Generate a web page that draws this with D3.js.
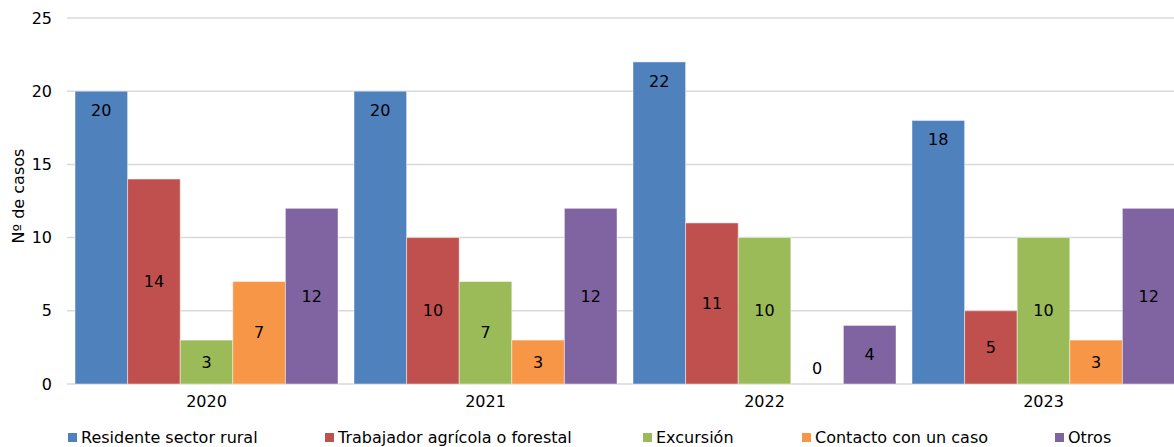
<!DOCTYPE html>
<html><head><meta charset="utf-8">
<script src="https://cdn.jsdelivr.net/npm/d3@7"></script>
<style>body{margin:0;background:#fff}svg{display:block;font-family:"DejaVu Sans",Verdana,sans-serif}</style>
</head><body><svg id="c" width="1174" height="447"></svg>
<script>
const years = ["2020","2021","2022","2023"];
const seriesNames = ["Residente sector rural","Trabajador agrícola o forestal","Excursión","Contacto con un caso","Otros"];
const residente = [20,20,22,18];
const trabajador = [14,10,11,5];
const excursion = [3,7,10,10];
const contacto = [7,3,0,3];
const otros = [12,12,4,12];
const colors = ["#4F81BD","#C0504D","#9BBB59","#F79646","#8064A2"];
const yTicks = [0,5,10,15,20,25];
const yTitle = "Nº de casos";

const series = [residente,trabajador,excursion,contacto,otros];
const svg = d3.select("#c");
const x0 = d3.scaleBand().domain(years).range([67,1183]).paddingInner(0).paddingOuter(0);
const x1 = d3.scaleBand().domain(d3.range(5)).range([8, x0.bandwidth()-8]);
const y = d3.scaleLinear().domain([0,25]).range([384,18]);

// gridlines
svg.append("g").selectAll("line").data(yTicks).join("line")
  .attr("x1",67).attr("x2",1174).attr("y1",d=>y(d)).attr("y2",d=>y(d))
  .attr("stroke","#d9d9d9").attr("stroke-width",1.5);

// y axis labels
const yAxis = d3.axisLeft(y).tickValues(yTicks).tickSize(0).tickPadding(0);
const ya = svg.append("g").attr("transform","translate(52,0)").call(yAxis);
ya.select(".domain").remove();
ya.selectAll("text").attr("font-size",16).attr("fill","#000").attr("font-family","DejaVu Sans");

// y title
svg.append("text").attr("transform","translate(24,196) rotate(-90)")
  .attr("text-anchor","middle").attr("font-size",16).text(yTitle);

// x axis labels
const xAxis = d3.axisBottom(x0).tickSize(0).tickPadding(0);
const xa = svg.append("g").attr("transform","translate(0,396)").call(xAxis);
xa.select(".domain").remove();
xa.selectAll("text").attr("font-size",16).attr("fill","#000").attr("font-family","DejaVu Sans").attr("dy","0.71em");

// bars
series.forEach((vals,si)=>{
  const g = svg.append("g");
  g.selectAll("rect").data(vals).join("rect")
    .attr("x",(d,i)=>x0(years[i])+x1(si))
    .attr("width",x1.bandwidth())
    .attr("y",d=>y(d)).attr("height",d=>y(0)-y(d))
    .attr("fill",colors[si]).attr("stroke","rgba(255,255,255,0.45)").attr("stroke-width",1);
  g.selectAll("text").data(vals).join("text")
    .attr("x",(d,i)=>x0(years[i])+x1(si)+x1.bandwidth()/2)
    .attr("y",d=>{
      if (si===0) return y(d)+19;
      if (d===0) return y(0)-16;
      return (y(d)+y(0))/2;
    })
    .attr("dy","0.35em").attr("text-anchor","middle").attr("font-size",16).attr("fill","#000")
    .text(d=>d);
});

// legend
const legX = [68,325,643,802,1055];
const lg = svg.append("g");
seriesNames.forEach((n,i)=>{
  lg.append("rect").attr("x",legX[i]).attr("y",433).attr("width",9).attr("height",9).attr("fill",colors[i]);
  lg.append("text").attr("x",legX[i]+13).attr("y",443).attr("font-size",16).attr("fill","#000").text(n);
});
</script></body></html>
